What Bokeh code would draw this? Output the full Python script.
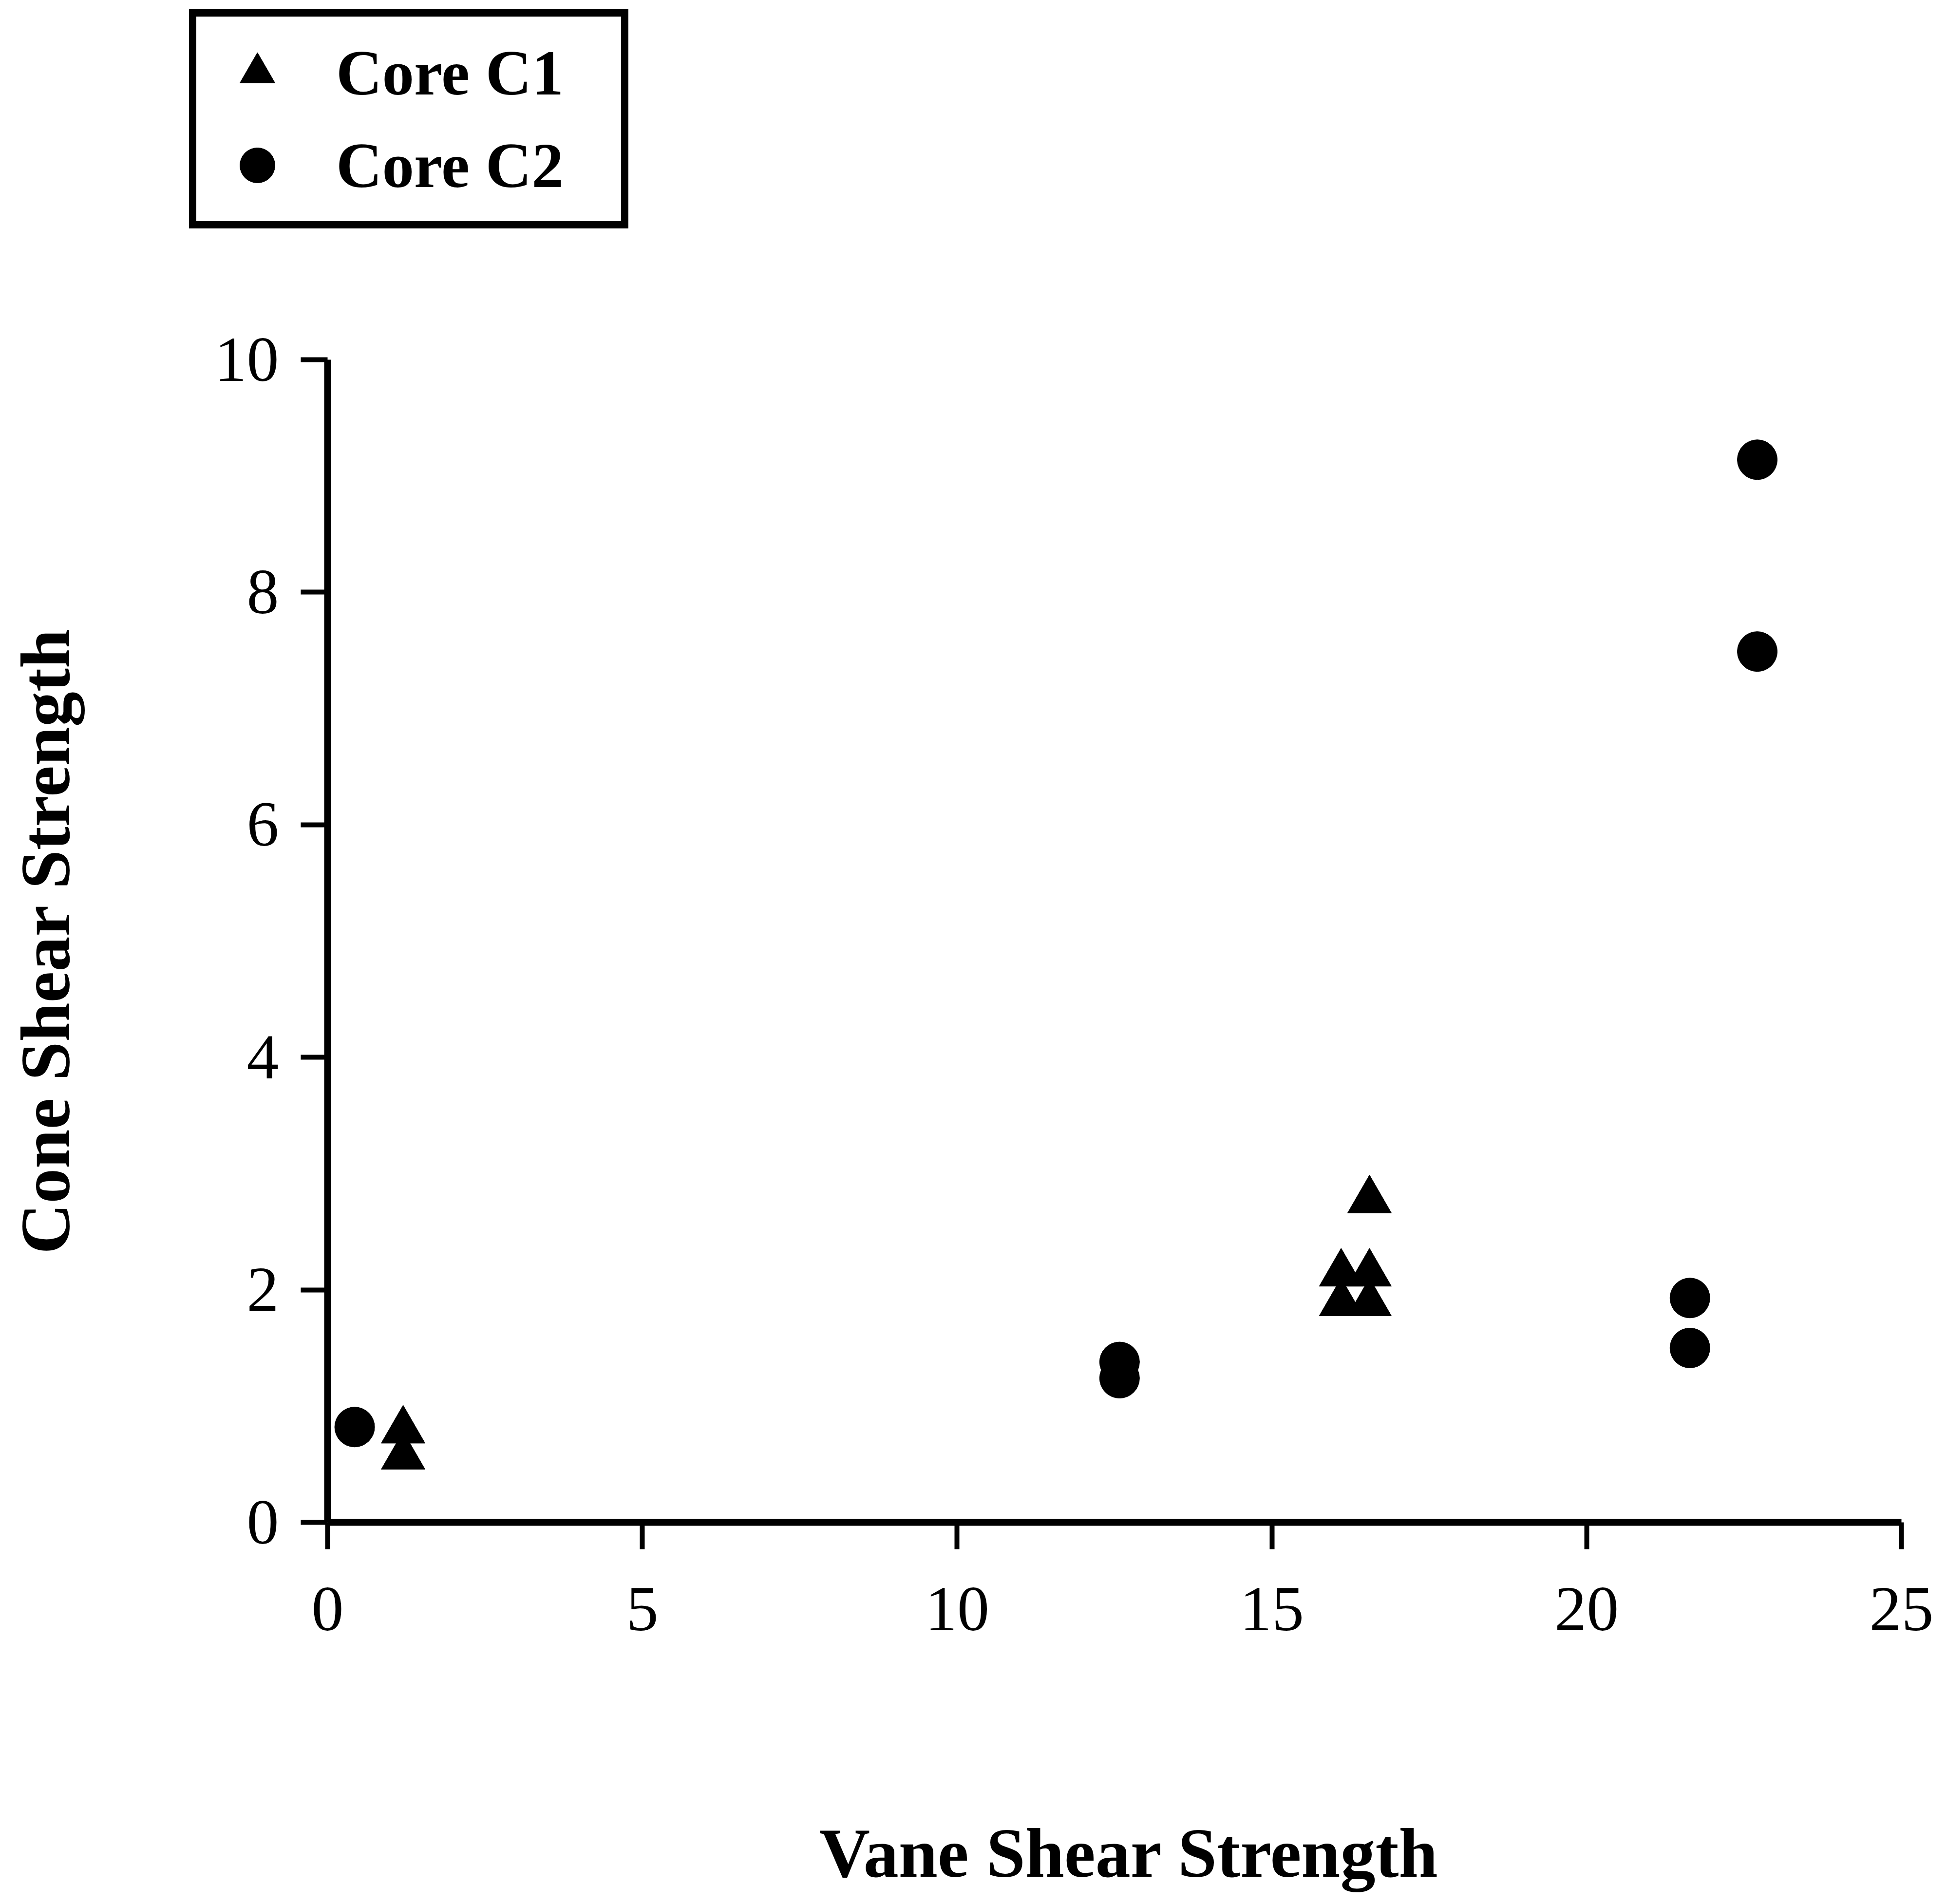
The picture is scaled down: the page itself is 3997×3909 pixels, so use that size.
from bokeh.plotting import figure
from bokeh.models import Range1d, FixedTicker, Legend, LegendItem, Label
from bokeh.embed import file_html
from bokeh.resources import INLINE

# Data
c1_x = [1.2, 1.2, 16.1, 16.55, 16.1, 16.55, 16.55]
c1_y = [0.79, 0.565, 2.14, 2.14, 1.885, 1.885, 2.77]
c2_x = [0.43, 12.58, 12.58, 21.64, 21.64, 22.71, 22.71]
c2_y = [0.82, 1.38, 1.24, 1.93, 1.50, 9.14, 7.49]
x_ticks = [0, 5, 10, 15, 20, 25]
y_ticks = [0, 2, 4, 6, 8, 10]
series_labels = ["Core C1", "Core C2"]
x_title = "Vane Shear Strength"
y_title = "Cone Shear Strength"
x_axis_span = (0, 25)
y_axis_span = (0, 10)

FONT = "Liberation Serif"

# Page layout (pixels): the axes' box inside the full canvas
W, H = 3997, 3909
AX_LEFT, AX_RIGHT, AX_TOP, AX_BOTTOM = 672, 3903, 738, 3125

# The frame covers the whole canvas (so nothing is clipped); the axes are
# pinned at 0 and bounded to their spans.
px_per_x = (AX_RIGHT - AX_LEFT) / (x_axis_span[1] - x_axis_span[0])
px_per_y = (AX_BOTTOM - AX_TOP) / (y_axis_span[1] - y_axis_span[0])
x_range = Range1d(x_axis_span[0] - AX_LEFT / px_per_x,
                  x_axis_span[1] + (W - AX_RIGHT) / px_per_x)
y_range = Range1d(y_axis_span[0] - (H - AX_BOTTOM) / px_per_y,
                  y_axis_span[1] + AX_TOP / px_per_y)

p = figure(width=W, height=H, output_backend="svg", toolbar_location=None,
           x_range=x_range, y_range=y_range,
           min_border_left=0, min_border_right=0,
           min_border_top=0, min_border_bottom=0)
p.outline_line_color = None
p.grid.visible = False
p.background_fill_color = "white"
p.border_fill_color = "white"

r1 = p.scatter(c1_x, c1_y, marker="triangle", size=90, fill_color="black", line_color="black")
r2 = p.scatter(c2_x, c2_y, marker="circle", size=82, fill_color="black", line_color="black")

for ax, ticks, span in ((p.xaxis[0], x_ticks, x_axis_span), (p.yaxis[0], y_ticks, y_axis_span)):
    ax.ticker = FixedTicker(ticks=ticks)
    ax.bounds = span
    ax.fixed_location = 0
    ax.axis_line_width = 14
    ax.axis_line_color = "black"
    ax.major_tick_line_width = 10
    ax.major_tick_line_color = "black"
    ax.major_tick_out = 55
    ax.major_tick_in = 0
    ax.minor_tick_line_color = None
    ax.major_label_text_font = FONT
    ax.major_label_text_font_size = "132px"
    ax.major_label_text_color = "black"
    ax.axis_label_text_font = FONT
    ax.axis_label_text_font_style = "bold"
    ax.axis_label_text_font_size = "144px"
    ax.axis_label_text_color = "black"

p.xaxis[0].major_label_standoff = 80
p.yaxis[0].major_label_standoff = 45
p.yaxis[0].axis_label = y_title
p.yaxis[0].axis_label_standoff = 265

# x-axis title, centred a little right of the axis middle as in the original
p.add_layout(Label(x=(x_axis_span[0] + x_axis_span[1]) / 2, y=y_axis_span[0],
                   x_offset=30, y_offset=-679, text=x_title,
                   text_align="center", text_baseline="alphabetic",
                   text_font=FONT, text_font_style="bold",
                   text_font_size="144px", text_color="black"))

LEG_H = 420
LEG_TOP = 49
legend = Legend(
    items=[LegendItem(label=series_labels[0], renderers=[r1]),
           LegendItem(label=series_labels[1], renderers=[r2])],
    location=(388, H - LEG_TOP - LEG_H),
    border_line_color="black", border_line_width=15, border_line_alpha=1,
    background_fill_color="white", background_fill_alpha=1,
    padding=25, spacing=10, margin=0,
    glyph_width=200, glyph_height=180,
    label_height=180, label_width=560, label_standoff=62,
    label_text_font=FONT, label_text_font_style="bold",
    label_text_font_size="131px", label_text_color="black",
)
p.add_layout(legend, "center")

open("out.html", "w").write(file_html(p, INLINE))
